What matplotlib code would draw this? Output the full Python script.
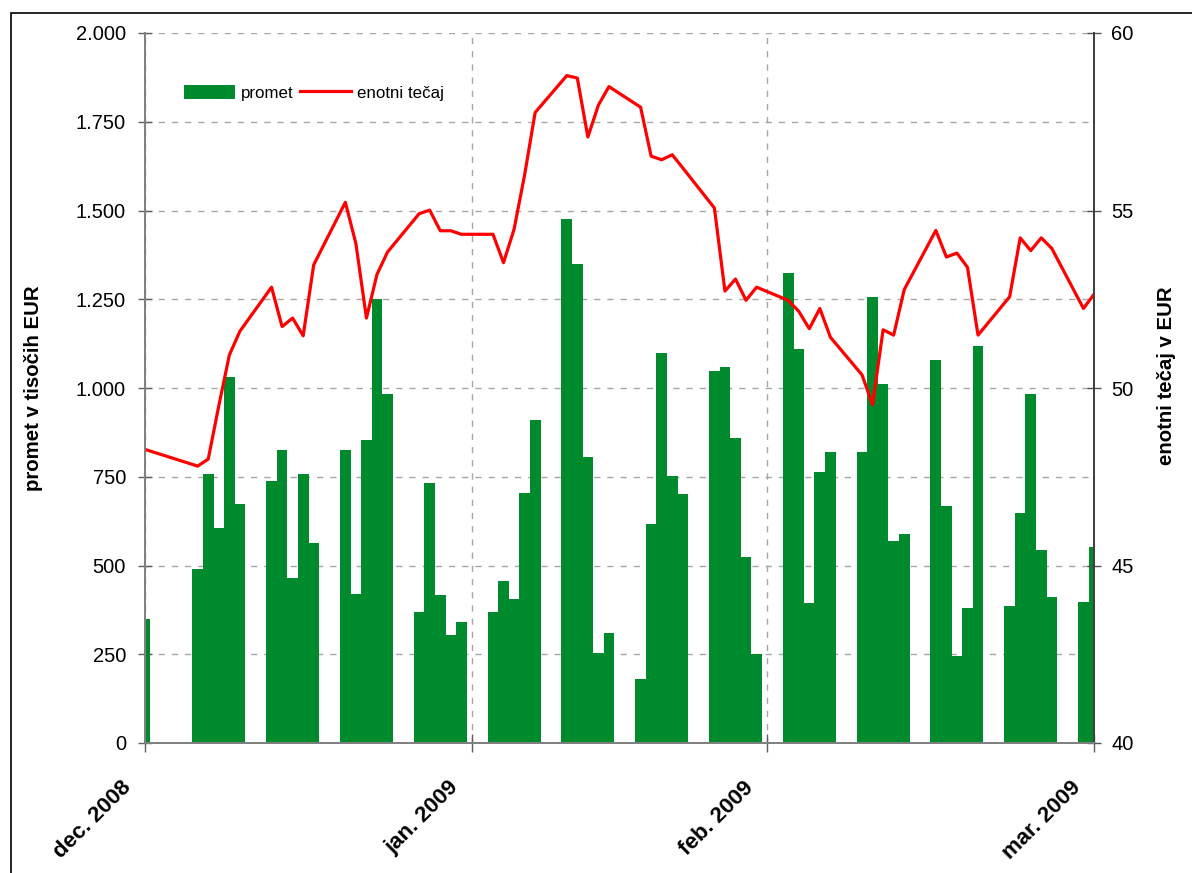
import numpy as np
import matplotlib
matplotlib.use('Agg')
import matplotlib.pyplot as plt
from matplotlib.ticker import FuncFormatter, MultipleLocator
from matplotlib.transforms import ScaledTranslation, blended_transform_factory
from matplotlib.patches import Rectangle

plt.rcParams['font.family'] = ['Liberation Sans', 'DejaVu Sans']

# day slots from the start of December (weekends left empty)
days = [0,
        5, 6, 7, 8, 9,
        12, 13, 14, 15, 16,
        19, 20, 21, 22, 23,
        26, 27, 28, 29, 30,
        33, 34, 35, 36, 37,
        40, 41, 42, 43, 44,
        47, 48, 49, 50, 51,
        54, 55, 56, 57, 58,
        61, 62, 63, 64, 65,
        68, 69, 70, 71, 72,
        75, 76, 77, 78, 79,
        82, 83, 84, 85, 86,
        89, 90]

# promet v tisocih EUR
promet = [350,
          489, 757, 605, 1031, 672,
          737, 824, 464, 757, 563,
          824, 421, 853, 1251, 984,
          368, 731, 416, 305, 341,
          368, 457, 405, 705, 909,
          1475, 1348, 805, 253, 311,
          180, 616, 1099, 752, 701,
          1048, 1060, 859, 525, 252,
          1323, 1111, 393, 763, 820,
          820, 1257, 1012, 568, 588,
          1080, 667, 245, 379, 1117,
          387, 647, 984, 543, 411,
          397, 552]

# enotni tecaj v EUR
tecaj = [48.27,
         47.80, 48.00, 49.50, 50.93, 51.60,
         52.84, 51.73, 51.97, 51.47, 53.47,
         55.23, 54.07, 51.97, 53.20, 53.83,
         54.91, 55.01, 54.43, 54.43, 54.33,
         54.33, 53.53, 54.47, 56.00, 57.76,
         58.80, 58.73, 57.07, 57.97, 58.49,
         57.91, 56.53, 56.43, 56.57, 56.20,
         55.07, 52.73, 53.07, 52.47, 52.84,
         52.47, 52.16, 51.67, 52.24, 51.43,
         50.37, 49.53, 51.64, 51.49, 52.77,
         54.44, 53.69, 53.80, 53.40, 51.49,
         52.57, 54.23, 53.87, 54.23, 53.93,
         52.24, 52.64]

month_pos = [0, 31, 59, 90]
month_labels = ['dec. 2008', 'jan. 2009', 'feb. 2009', 'mar. 2009']

W, H = 1192, 873
fig = plt.figure(figsize=(W / 100, H / 100), dpi=100)
ax = fig.add_axes([145 / W, 1 - 743 / H, (1094 - 145) / W, (743 - 33) / H])
ax2 = ax.twinx()

bars = ax.bar(days, promet, width=1.02, color='#008A2E', linewidth=0, label='promet')
line, = ax2.plot(days, tecaj, color='#FF0000', lw=2.3, label='enotni tečaj')

ax.set_xlim(0, 90)
ax.set_ylim(0, 2000)
ax2.set_ylim(40, 60)
ax.yaxis.set_major_locator(MultipleLocator(250))
ax2.yaxis.set_major_locator(MultipleLocator(5))
ax.yaxis.set_major_formatter(FuncFormatter(lambda v, p: f'{int(v):,}'.replace(',', '.')))

ax.set_axisbelow(True)
ax.grid(True, color='#A6A6A6', lw=1, linestyle=(0, (4.5, 5)))

# month ticks, labels drawn as rotated texts hanging left of each tick
ax.set_xticks(month_pos)
ax.set_xticklabels([])
trans = blended_transform_factory(ax.transData, ax.transAxes) + \
    ScaledTranslation(-24 / 100, -34 / 100, fig.dpi_scale_trans)
for pos, lab in zip(month_pos, month_labels):
    ax.text(pos, 0, lab, transform=trans, rotation=45, ha='right', va='top',
            rotation_mode='anchor', fontsize=16, fontweight='bold')

ax.tick_params(axis='x', direction='inout', length=13, width=1, color='#606060')
ax.tick_params(axis='y', direction='inout', length=10.5, width=1, color='#606060',
               pad=8.4, labelsize=14.5)
ax2.tick_params(axis='y', direction='inout', length=9.5, width=1, color='#505050',
                pad=7.5, labelsize=14.5)

for a in (ax, ax2):
    a.spines['top'].set_visible(False)
    a.spines['left'].set_color('#808080')
    a.spines['bottom'].set_color('#808080')
    a.spines['right'].set_color('#404040')
    for s in ('left', 'bottom', 'right'):
        a.spines[s].set_linewidth(1.3)

fig.text(34 / W, 1 - 388 / H, 'promet v tisočih EUR', rotation=90, ha='center', va='center',
         fontsize=14.7, fontweight='bold')
fig.text(1167 / W, 1 - 376 / H, 'enotni tečaj v EUR', rotation=90, ha='center', va='center',
         fontsize=14.7, fontweight='bold')

leg = ax2.legend([bars, line], ['promet', 'enotni tečaj'], ncol=2,
                 loc='center left', bbox_to_anchor=(177 / W, 1 - 93 / H),
                 bbox_transform=fig.transFigure, fontsize=12.2,
                 frameon=True, fancybox=False, framealpha=1, edgecolor='none',
                 handlelength=3.0, handleheight=0.9, handletextpad=0.35,
                 columnspacing=0.4, borderpad=0.4, borderaxespad=0)

fig.add_artist(Rectangle((11 / W, -0.1), 1.2, 1.1 - 13 / H, transform=fig.transFigure,
                         fill=False, edgecolor='black', lw=1.2))

fig.savefig('out.png', dpi=100)
